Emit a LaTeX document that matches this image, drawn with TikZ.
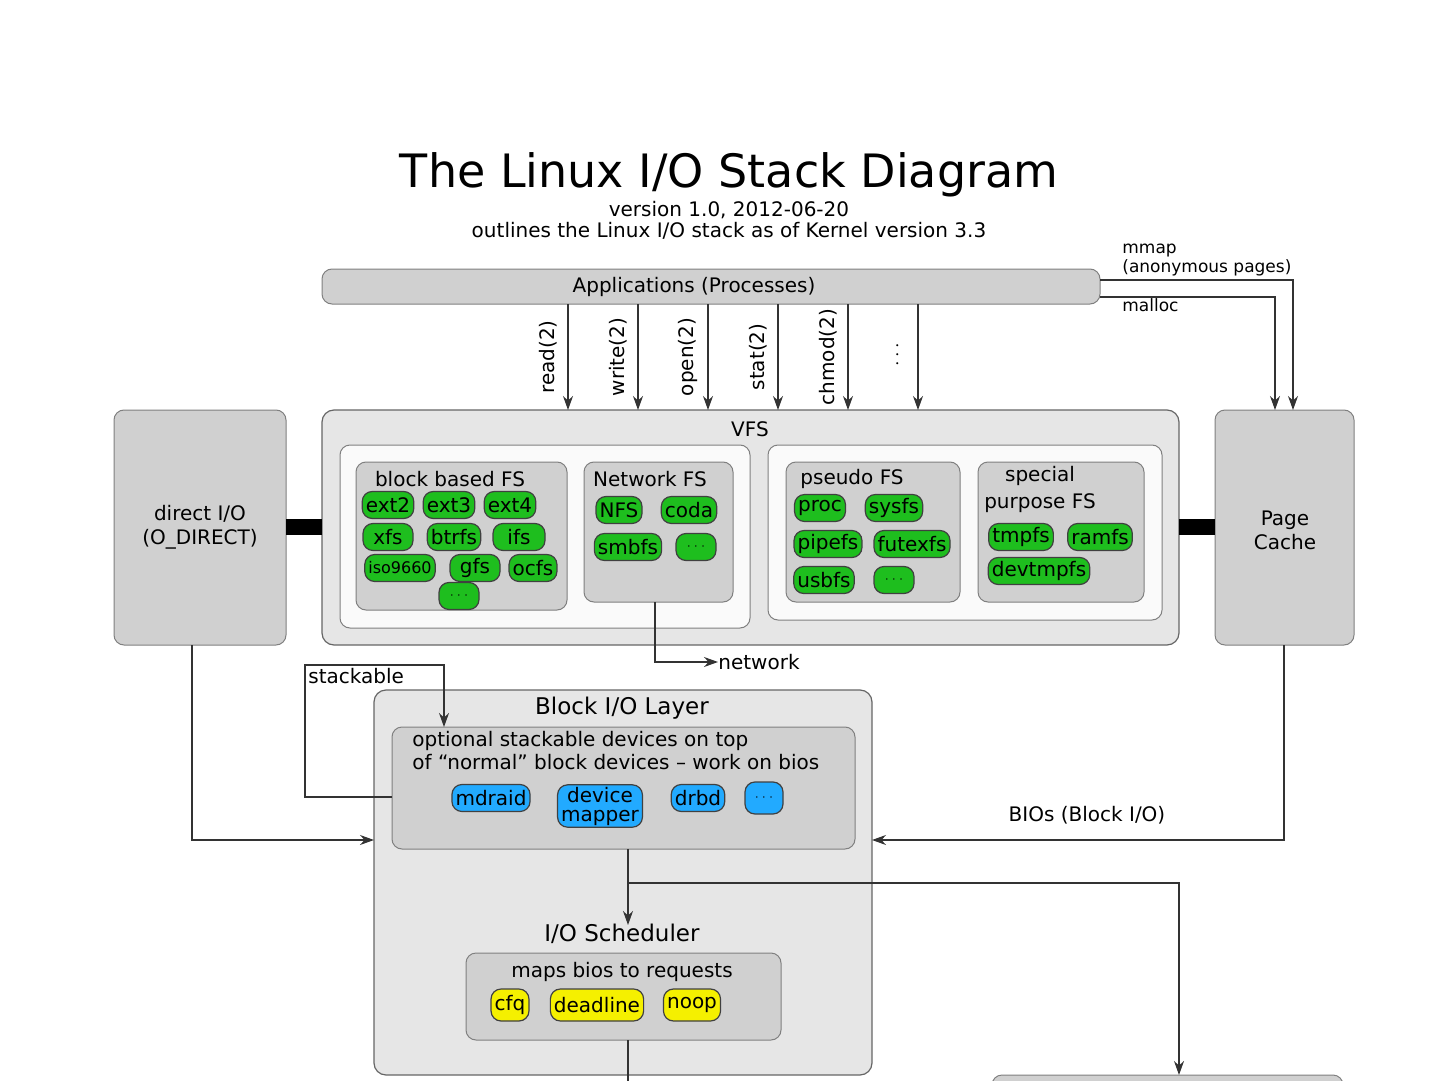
\documentclass[tikz,border=0pt]{standalone}
\usepackage{fontspec}
\setmainfont{DejaVu Sans}
\usetikzlibrary{positioning,arrows.meta}
\definecolor{boxgray}{HTML}{D0D0D0}
\definecolor{lightgray}{HTML}{E6E6E6}
\definecolor{fsgreen}{HTML}{1EBE1E}
\definecolor{devblue}{HTML}{22AAFF}
\definecolor{schedyellow}{HTML}{F5F000}
\tikzset{
  layer/.style={draw=black!60, fill=lightgray, rounded corners=6pt, line width=0.6pt},
  group/.style={draw=black!50, fill=boxgray, rounded corners=5pt, line width=0.5pt},
  pane/.style={draw=black!50, fill=white!96!gray, rounded corners=5pt, line width=0.5pt},
  pill/.style={draw=black!75, rounded corners=5pt, inner xsep=1.8pt, inner ysep=1pt, minimum height=13.5pt, line width=0.6pt, font=\fontsize{10}{10}\selectfont},
  fs/.style={pill, fill=fsgreen},
  dev/.style={pill, fill=devblue},
  sched/.style={pill, fill=schedyellow},
  flow/.style={-{Stealth[length=7pt,width=5pt]}, line width=0.6pt, black!80},
  txt/.style={font=\fontsize{10}{12}\selectfont, inner sep=0pt},
  bus/.style={line width=8pt, black}
}
\begin{document}
\begin{tikzpicture}[x=0.5pt, y=-0.5pt]
  \useasboundingbox (0,0) rectangle (1441,1081);
  % title
  \node[font=\fontsize{23}{26}\selectfont] (title) at (729,175) {The Linux I/O Stack Diagram};
  \node[txt] (ver) at (729,210) {version 1.0, 2012-06-20};
  \node[txt] (outl) at (729,231) {outlines the Linux I/O stack as of Kernel version 3.3};
  % applications
  \draw[group] (322,269) rectangle (1100,304);
  \node[txt] (apps) at (694,287) {Applications (Processes)};
  \node[txt, anchor=west, font=\fontsize{8.5}{9}\selectfont] (mmap) at (1122,251) {mmap};
  \node[txt, anchor=west, font=\fontsize{8.5}{9}\selectfont] (anon) at (1122,268) {(anonymous pages)};
  \node[txt, anchor=west, font=\fontsize{8.5}{9}\selectfont] (malloc) at (1122,305) {malloc};
  % vfs
  \draw[layer] (322,410) rectangle (1179,645);
  \node[txt] (vfs) at (750,429) {VFS};
  \draw[pane] (340,445) rectangle (750,628);
  \draw[pane] (768,445) rectangle (1162,620);
  \draw[group] (356,462) rectangle (567,610);
  \draw[group] (584,462) rectangle (733,602);
  \draw[group] (786,462) rectangle (960,602);
  \draw[group] (978,462) rectangle (1144,602);
  \node[txt] (bbfs) at (450,479) {block based FS};
  \node[txt] (netfs) at (650,479) {Network FS};
  \node[txt] (psfs) at (852,479) {pseudo FS};
  \node[txt] (spfs1) at (1040,476) {special};
  \node[txt] (spfs2) at (1040,503) {purpose FS};
  \node[fs] (ext2) at (388,505) {ext2};
  \node[fs] (ext3) at (449,505) {ext3};
  \node[fs] (ext4) at (510,505) {ext4};
  \node[fs, minimum width=25pt] (xfs) at (388,537) {xfs};
  \node[fs] (btrfs) at (454,537) {btrfs};
  \node[fs, minimum width=26pt] (ifs) at (519,537) {ifs};
  \node[fs, font=\fontsize{8}{8}\selectfont] (iso) at (400,568) {iso9660};
  \node[fs, minimum width=25pt] (gfs) at (475,568) {gfs};
  \node[fs] (ocfs) at (533,568) {ocfs};
  \node[fs, minimum width=20pt, font=\fontsize{6}{6}\selectfont] (bbmore) at (459,596) {$\cdots$};
  \node[fs] (nfs) at (619,510) {NFS};
  \node[fs] (coda) at (689,510) {coda};
  \node[fs] (smbfs) at (628,547) {smbfs};
  \node[fs, minimum width=20pt, font=\fontsize{6}{6}\selectfont] (netmore) at (696,547) {$\cdots$};
  \node[fs] (proc) at (820,508) {proc};
  \node[fs] (sysfs) at (894,508) {sysfs};
  \node[fs] (pipefs) at (828,544) {pipefs};
  \node[fs] (futexfs) at (912,544) {futexfs};
  \node[fs] (usbfs) at (824,580) {usbfs};
  \node[fs, minimum width=20pt, font=\fontsize{6}{6}\selectfont] (psmore) at (894,580) {$\cdots$};
  \node[fs] (tmpfs) at (1021,537) {tmpfs};
  \node[fs] (ramfs) at (1100,537) {ramfs};
  \node[fs] (devtmpfs) at (1039,571) {devtmpfs};
  % syscalls
  \foreach \x/\lbl in {568/read(2), 638/write(2), 708/open(2), 778/stat(2), 848/chmod(2)}{
    \coordinate (sc\x) at (\x,304);
    \coordinate (sv\x) at (\x,410);
    \draw[flow] (sc\x) -- (sv\x);
    \node[txt, rotate=90] at (\x-20,357) {\lbl};
  }
  \coordinate (sc918) at (918,304);
  \coordinate (sv918) at (918,410);
  \draw[flow] (sc918) -- (sv918);
  \node[txt, rotate=90] (dots) at (898,355) {$\cdots$};
  % direct I/O and page cache
  \draw[group] (114,410) rectangle (286,645);
  \node[txt, align=center] (dio) at (200,527) {direct I/O\\(O\_DIRECT)};
  \draw[group] (1215,410) rectangle (1354,645);
  \node[txt, align=center] (pc) at (1285,530) {Page\\Cache};
  \draw[bus] (286,527) -- (322,527);
  \draw[bus] (1179,527) -- (1215,527);
  \coordinate (appmm) at (1100,280);
  \coordinate (appml) at (1100,297);
  \draw[flow] (appmm) -- (1293,280) -- (1293,410);
  \draw[flow] (appml) -- (1275,297) -- (1275,410);
  % network
  \coordinate (netout) at (655,602);
  \node[txt, anchor=west] (network) at (718,662) {network};
  \draw[flow] (netout) |- (network.west);
  % block layer
  \draw[layer] (374,690) rectangle (872,1075);
  \node[txt, font=\fontsize{11.5}{12}\selectfont] (blk) at (622,708) {Block I/O Layer};
  \draw[group] (392,727) rectangle (855,849);
  \node[txt, anchor=west] (opt1) at (412,741) {optional stackable devices on top};
  \node[txt, anchor=west] (opt2) at (412,762) {of “normal” block devices – work on bios};
  \node[dev] (mdraid) at (491,798) {mdraid};
  \node[dev, align=center, font=\fontsize{10}{9.5}\selectfont] (dm) at (600,806) {device\\mapper};
  \node[dev] (drbd) at (698,798) {drbd};
  \node[dev, minimum width=19pt, minimum height=16pt, font=\fontsize{6}{6}\selectfont] (devmore) at (764,798) {$\cdots$};
  \node[txt, anchor=west] (stack) at (308,676) {stackable};
  \coordinate (stkout) at (392,797);
  \coordinate (stkin) at (444,727);
  \draw[flow] (stkout) -- (305,797) -- (305,665) -- (444,665) -- (stkin);
  \coordinate (dioout) at (192,645);
  \coordinate (blkw) at (374,840);
  \draw[flow] (dioout) |- (blkw);
  \coordinate (pcout) at (1284,645);
  \coordinate (blke) at (872,840);
  \draw[flow] (pcout) |- (blke);
  \node[txt] (bios) at (1087,815) {BIOs (Block I/O)};
  % scheduler
  \node[txt, font=\fontsize{11.5}{12}\selectfont] (iosched) at (622,934) {I/O Scheduler};
  \coordinate (stkbot) at (628,849);
  \draw[flow] (stkbot) -- (628,925);
  \coordinate (bypass) at (1179,1075);
  \draw[flow] (628,883) -- (1179,883) -- (bypass);
  \draw[group] (466,953) rectangle (781,1040);
  \node[txt] (maps) at (622,972) {maps bios to requests};
  \node[sched, minimum height=16pt] (cfq) at (510,1005) {cfq};
  \node[sched, minimum height=16pt] (deadline) at (597,1005) {deadline};
  \node[sched, minimum height=16pt] (noop) at (692,1005) {noop};
  \coordinate (schedout) at (628,1040);
  \draw[line width=0.6pt, black!80] (schedout) -- (628,1081);
  % next layer (cut off)
  \draw[group] (992,1075) rectangle (1343,1100);
\end{tikzpicture}
\end{document}
